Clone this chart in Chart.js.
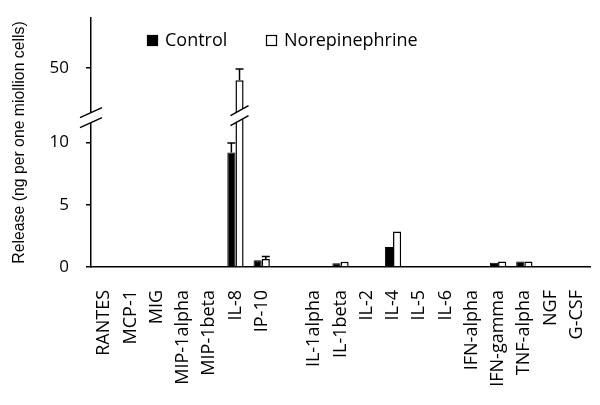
<!DOCTYPE html>
<html>
<head>
<meta charset="utf-8">
<script src="https://cdn.jsdelivr.net/npm/chart.js@4"></script>
<style>
  html, body { margin: 0; padding: 0; background: #fff; }
  #wrap { width: 600px; height: 405px; }
</style>
</head>
<body>
<div id="wrap"><canvas id="chart" width="600" height="405"></canvas></div>
<script>
// Cytokine release, control vs norepinephrine

const categories = ['RANTES', 'MCP-1', 'MIG', 'MIP-1alpha', 'MIP-1beta', 'IL-8', 'IP-10', '',
  'IL-1alpha', 'IL-1beta', 'IL-2', 'IL-4', 'IL-5', 'IL-6', 'IFN-alpha', 'IFN-gamma',
  'TNF-alpha', 'NGF', 'G-CSF'];

const controlValues = [null, null, null, null, null, 9.2, 0.55, null,
  null, 0.3, null, 1.6, null, null, null, 0.35, 0.45, null, null];
const controlErrors = [0, 0, 0, 0, 0, 0.75, 0, 0,
  0, 0, 0, 0, 0, 0, 0, 0, 0, 0, 0];

const norepiValues = [null, null, null, null, null, 40, 0.65, null,
  null, 0.42, null, 2.85, null, null, null, 0.45, 0.45, null, null];
const norepiErrors = [0, 0, 0, 0, 0, 9, 0.2, 0,
  0, 0, 0, 0, 0, 0, 0, 0, 0, 0, 0];

// broken y axis: 0-10 linear, then a compressed segment around 50
const yTickValues = [0, 5, 10, 50];
const BREAK_LOW = 10;
const BREAK_AT = 12;      // display units where the break marks sit
const UPPER_REF = 50;
const UPPER_POS = 16;     // display position of 50
const UPPER_K = 0.1;      // display units per data unit above the break

function toDisplay(v) {
  if (v === null) return null;
  if (v <= BREAK_LOW) return v;
  return UPPER_POS + (v - UPPER_REF) * UPPER_K;
}

const FONT = '"Open Sans", "Noto Sans", sans-serif';

// error bars (upper only)
const errorBarPlugin = {
  id: 'errorBars',
  afterDatasetsDraw(chart) {
    const ctx = chart.ctx;
    const yScale = chart.scales.y;
    chart.data.datasets.forEach((ds, i) => {
      const meta = chart.getDatasetMeta(i);
      ds.raw.forEach((v, j) => {
        const err = ds.errors[j];
        if (v === null || !err) return;
        const bar = meta.data[j];
        const yTop = yScale.getPixelForValue(toDisplay(v + err));
        ctx.save();
        ctx.strokeStyle = '#000';
        ctx.lineWidth = 1.5;
        ctx.beginPath();
        ctx.moveTo(bar.x, bar.y);
        ctx.lineTo(bar.x, yTop);
        ctx.moveTo(bar.x - 4, yTop);
        ctx.lineTo(bar.x + 4, yTop);
        ctx.stroke();
        ctx.restore();
      });
    });
  }
};

// break marks on the axis and on bars crossing the break
function drawBreak(ctx, cx, yc, half) {
  ctx.save();
  ctx.fillStyle = '#fff';
  ctx.beginPath();
  ctx.moveTo(cx - half, yc);
  ctx.lineTo(cx + half, yc - 10);
  ctx.lineTo(cx + half, yc);
  ctx.lineTo(cx - half, yc + 10);
  ctx.closePath();
  ctx.fill();
  ctx.strokeStyle = '#000';
  ctx.lineWidth = 1.5;
  ctx.beginPath();
  ctx.moveTo(cx - half, yc);
  ctx.lineTo(cx + half, yc - 10);
  ctx.moveTo(cx - half, yc + 10);
  ctx.lineTo(cx + half, yc);
  ctx.stroke();
  ctx.restore();
}

const breakPlugin = {
  id: 'axisBreak',
  afterDraw(chart) {
    const ctx = chart.ctx;
    const yScale = chart.scales.y;
    const yc = yScale.getPixelForValue(BREAK_AT);
    drawBreak(ctx, chart.chartArea.left, yc, 11);
    chart.data.datasets.forEach((ds, i) => {
      const meta = chart.getDatasetMeta(i);
      ds.raw.forEach((v, j) => {
        if (v !== null && v > BREAK_LOW + 5) {
          drawBreak(ctx, meta.data[j].x, yc - 2, 9);
        }
      });
    });
  }
};

// legend drawn inside the plot area
const legendPlugin = {
  id: 'insideLegend',
  afterDraw(chart) {
    const ctx = chart.ctx;
    const items = [{ x: 147, ds: chart.data.datasets[0] }, { x: 266, ds: chart.data.datasets[1] }];
    ctx.save();
    ctx.font = '18px ' + FONT;
    ctx.textBaseline = 'middle';
    items.forEach(it => {
      ctx.fillStyle = it.ds.backgroundColor;
      ctx.fillRect(it.x, 35, 11, 11);
      ctx.strokeStyle = '#000';
      ctx.lineWidth = 1.2;
      ctx.strokeRect(it.x + 0.5, 35.5, 10, 10);
      ctx.fillStyle = '#000';
      ctx.fillText(it.ds.label, it.x + 18, 41);
    });
    ctx.restore();
  }
};

const ctx = document.getElementById('chart').getContext('2d');
new Chart(ctx, {
  type: 'bar',
  data: {
    labels: categories,
    datasets: [{
      label: 'Control',
      data: controlValues.map(toDisplay),
      raw: controlValues,
      errors: controlErrors,
      backgroundColor: '#000',
      borderColor: '#000',
      borderWidth: 1
    }, {
      label: 'Norepinephrine',
      data: norepiValues.map(toDisplay),
      raw: norepiValues,
      errors: norepiErrors,
      backgroundColor: '#fff',
      borderColor: '#000',
      borderWidth: 1.5
    }]
  },
  options: {
    responsive: false,
    animation: false,
    categoryPercentage: 0.62,
    barPercentage: 1.0,
    layout: { padding: { left: 10, right: 10, top: 18, bottom: 0 } },
    plugins: {
      legend: { display: false },
      tooltip: { enabled: false }
    },
    scales: {
      x: {
        grid: { display: false },
        border: { display: true, color: '#000', width: 1.5 },
        ticks: {
          color: '#000',
          font: { family: FONT, size: 18 },
          minRotation: 90,
          maxRotation: 90,
          autoSkip: false,
          padding: 15
        },
        afterFit(scale) {
          scale.height = 138;
          scale.paddingLeft = 0;
          scale.paddingRight = 0;
        }
      },
      y: {
        min: 0,
        max: 20,
        grid: { display: true, drawOnChartArea: false, drawTicks: true, tickLength: 5, color: '#000', lineWidth: 1.5 },
        border: { display: true, color: '#000', width: 1.5 },
        afterBuildTicks(scale) {
          scale.ticks = yTickValues.map(v => ({ value: toDisplay(v) }));
        },
        ticks: {
          color: '#000',
          font: { family: FONT, size: 17 },
          padding: 17,
          callback(value) {
            const i = yTickValues.findIndex(v => toDisplay(v) === value);
            return i >= 0 ? String(yTickValues[i]) : '';
          }
        },
        title: {
          display: true,
          text: 'Release (ng per one miollion cells)',
          color: '#000',
          font: { family: '"Liberation Sans", Arial, sans-serif', size: 15.8 },
          padding: 0
        },
        afterFit(scale) {
          scale.width = 81;
          scale.paddingTop = 0;
          scale.paddingBottom = 0;
        }
      }
    }
  },
  plugins: [errorBarPlugin, breakPlugin, legendPlugin]
});
</script>
</body>
</html>
